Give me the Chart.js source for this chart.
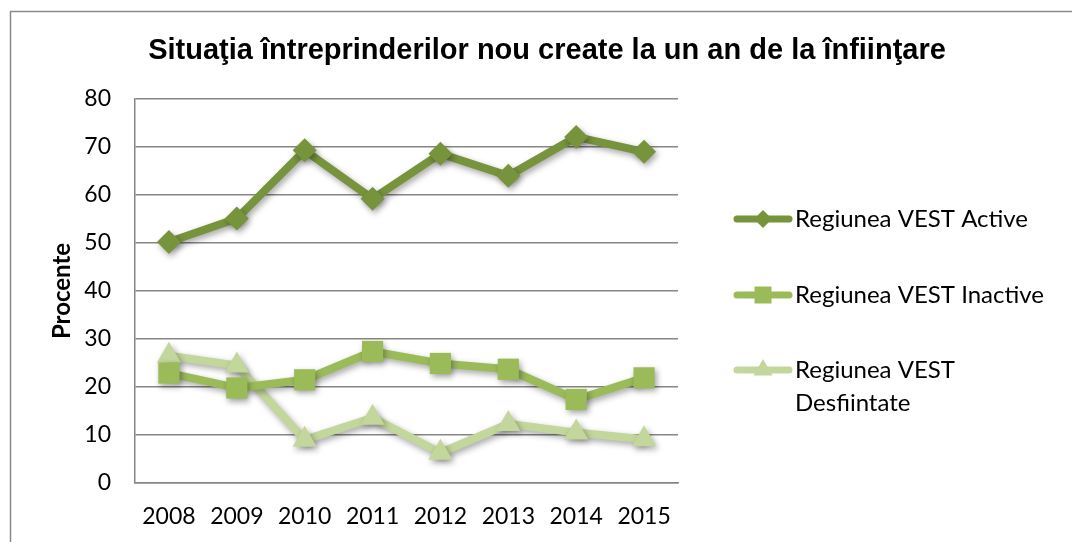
<!DOCTYPE html>
<html>
<head>
<meta charset="utf-8">
<script src="https://cdn.jsdelivr.net/npm/chart.js"></script>
<style>
  html, body { margin: 0; padding: 0; background: #fff; }
</style>
</head>
<body>
<canvas id="firmsChart" width="1072" height="542"></canvas>
<script>
// Situatia intreprinderilor nou create
const years = ['2008', '2009', '2010', '2011', '2012', '2013', '2014', '2015'];
const active = [50.2, 55.1, 69.3, 59.2, 68.6, 64.0, 72.1, 69.0];
const inactive = [22.9, 19.8, 21.5, 27.4, 24.9, 23.7, 17.4, 21.9];
const desfiintate = [26.5, 24.5, 9.0, 13.6, 6.3, 12.3, 10.5, 9.1];
const seriesNames = ['Regiunea VEST Active', 'Regiunea VEST Inactive', 'Regiunea VEST Desfiintate'];
const yTicks = [0, 10, 20, 30, 40, 50, 60, 70, 80];

const chartTitle = 'Situaţia întreprinderilor nou create la un an de la înfiinţare';
const bodyFont = 'Lato, "Open Sans", sans-serif';
const gridGray = '#868686';

// outer frame like the Excel chart area border
const framePlugin = {
  id: 'frame',
  beforeDraw(chart) {
    const ctx = chart.ctx;
    ctx.save();
    ctx.strokeStyle = '#8a8a8a';
    ctx.lineWidth = 1.5;
    ctx.beginPath();
    ctx.moveTo(10.5, chart.height);
    ctx.lineTo(10.5, 11.5);
    ctx.lineTo(chart.width, 11.5);
    ctx.stroke();
    // title
    ctx.fillStyle = '#000';
    ctx.font = 'bold 29px "Liberation Sans", Arial, sans-serif';
    ctx.textAlign = 'center';
    ctx.textBaseline = 'middle';
    ctx.fillText(chartTitle, 547, 51);
    ctx.restore();
  }
};

// soft drop shadow under lines and markers
const shadowPlugin = {
  id: 'softShadow',
  beforeDatasetsDraw(chart) {
    const ctx = chart.ctx;
    ctx.save();
    ctx.shadowColor = 'rgba(0,0,0,0.35)';
    ctx.shadowBlur = 6;
    ctx.shadowOffsetX = 2;
    ctx.shadowOffsetY = 3;
  },
  afterDatasetsDraw(chart) {
    chart.ctx.restore();
  }
};

// legend on the right: line with marker, wrapped label
const sideLegend = {
  id: 'sideLegend',
  afterDraw(chart) {
    const ctx = chart.ctx;
    const rows = [219, 295, 370];
    const markerSize = [9, 12, 11];
    ctx.save();
    ctx.font = '24px ' + bodyFont;
    ctx.textBaseline = 'middle';
    chart.data.datasets.forEach((ds, i) => {
      const y = rows[i];
      ctx.strokeStyle = ds.borderColor;
      ctx.lineWidth = 7;
      ctx.lineCap = 'round';
      ctx.beginPath();
      ctx.moveTo(737, y);
      ctx.lineTo(789, y);
      ctx.stroke();
      ctx.fillStyle = ds.pointBackgroundColor;
      Chart.helpers.drawPoint(ctx, { pointStyle: ds.pointStyle, radius: markerSize[i], borderWidth: 0, rotation: 0 }, 763, y);
      // wrap label
      const words = ds.label.split(' ');
      const lines = [];
      let cur = '';
      words.forEach(w => {
        const test = cur ? cur + ' ' + w : w;
        if (ctx.measureText(test).width > 265 && cur) { lines.push(cur); cur = w; } else { cur = test; }
      });
      lines.push(cur);
      ctx.fillStyle = '#000';
      lines.forEach((t, k) => ctx.fillText(t, 795, y + k * 33));
    });
    ctx.restore();
  }
};

const ctx = document.getElementById('firmsChart').getContext('2d');
new Chart(ctx, {
  type: 'line',
  data: {
    labels: years,
    datasets: [{
      label: seriesNames[0],
      data: active,
      borderColor: '#77933C',
      pointBackgroundColor: '#77933C',
      pointStyle: 'rectRot',
      pointRadius: 12,
      order: 2
    }, {
      label: seriesNames[1],
      data: inactive,
      borderColor: '#9BBB59',
      pointBackgroundColor: '#9BBB59',
      pointStyle: 'rect',
      pointRadius: 15,
      order: 0
    }, {
      label: seriesNames[2],
      data: desfiintate,
      borderColor: '#C3D69B',
      pointBackgroundColor: '#C3D69B',
      pointStyle: 'triangle',
      pointRadius: 14,
      order: 1
    }]
  },
  options: {
    responsive: false,
    animation: false,
    elements: {
      line: { borderWidth: 8, tension: 0, borderJoinStyle: 'miter' },
      point: { borderWidth: 0, hoverRadius: 14 }
    },
    layout: { padding: { top: 99, right: 394, left: 48, bottom: 0 } },
    plugins: {
      legend: { display: false },
      title: { display: false },
      tooltip: { enabled: false }
    },
    scales: {
      x: {
        offset: true,
        grid: { display: false, drawTicks: false },
        border: { color: gridGray, width: 1.5 },
        ticks: { color: '#000', font: { family: bodyFont, size: 23 }, padding: 20, maxRotation: 0 },
        afterFit(scale) { scale.height = 59; }
      },
      y: {
        min: 0,
        max: 80,
        afterBuildTicks(scale) { scale.ticks = yTicks.map(v => ({ value: v })); },
        grid: { color: gridGray, lineWidth: 1.5, drawTicks: false },
        border: { color: gridGray, width: 1.5 },
        ticks: { color: '#000', font: { family: bodyFont, size: 23 }, padding: 24 },
        title: { display: true, text: 'Procente', color: '#000', font: { family: bodyFont, size: 24, weight: 'bold' }, padding: 0 },
        afterFit(scale) { scale.width = 87; }
      }
    }
  },
  plugins: [framePlugin, shadowPlugin, sideLegend]
});
</script>
</body>
</html>
